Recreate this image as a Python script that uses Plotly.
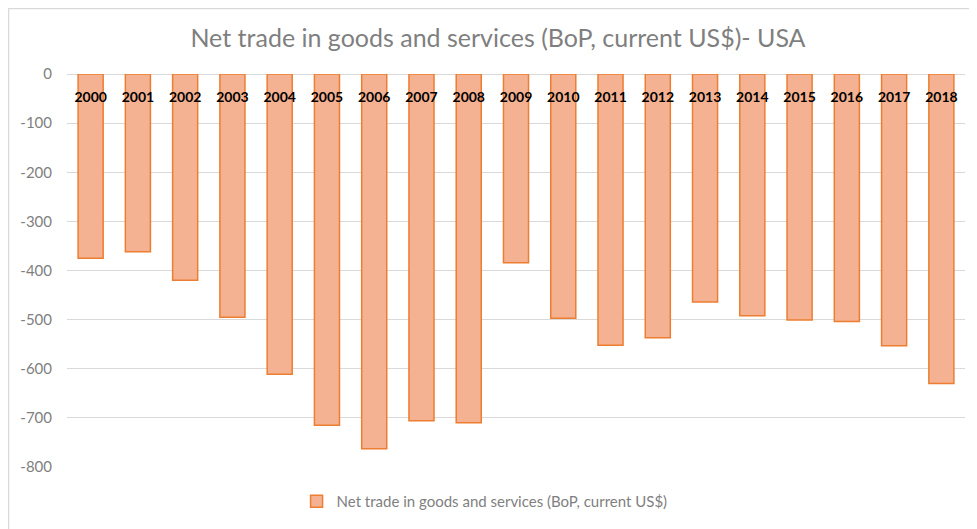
import plotly.graph_objects as go

years = [str(y) for y in range(2000, 2019)]
values = [-375, -362, -420, -495, -611, -715, -763, -706, -710, -384,
          -497, -552, -537, -464, -492, -501, -504, -553, -630]
series_name = "Net trade in goods and services (BoP, current US$)"
title_text = "Net trade in goods and services (BoP, current US$)- USA"
y_ticks = [0, -100, -200, -300, -400, -500, -600, -700, -800]
y_ticktext = ["0", "-100", "-200", "-300", "-400", "-500", "-600", "-700", "-800"]

W, H = 969, 521
L, R, T, B = 59, 12, 66, 62
PW, PH = W - L - R, H - T - B

fig = go.Figure()
fig.add_trace(go.Bar(
    x=years, y=values, name=series_name,
    marker=dict(color="#F5B292", line=dict(color="#ED7D31", width=1.5)),
    showlegend=True,
))

fig.update_layout(
    width=W, height=H,
    margin=dict(l=L, r=R, t=T, b=B, autoexpand=False),
    paper_bgcolor="white", plot_bgcolor="white",
    bargap=0.47,
    title=dict(text=title_text, x=490 / W, xanchor="center",
               y=1 - 30 / H, yanchor="middle",
               font=dict(family="Lato", size=25, color="#7f7f7f")),
    font=dict(family="Lato"),
    xaxis=dict(anchor="free", position=1, side="bottom", showgrid=False,
               showline=False, ticks="", type="category", automargin=False,
               tickfont=dict(family="Lato", size=14, color="#000000", weight="bold"),
               ticklabelstandoff=13),
    yaxis=dict(range=[-800, 0], tickvals=y_ticks, ticktext=y_ticktext,
               showgrid=True, automargin=False,
               gridcolor="#d9d9d9", gridwidth=1, zeroline=True,
               zerolinecolor="#d9d9d9", zerolinewidth=1,
               tickfont=dict(family="Lato", size=15, color="#7f7f7f"),
               ticklabelstandoff=14),
    legend=dict(orientation="h", x=0.465, xanchor="center", y=-0.088, yanchor="middle",
                font=dict(family="Lato", size=15, color="#7f7f7f"),
                itemwidth=30),
    shapes=[
        dict(type="line", xref="paper", yref="paper",
             x0=-(L - 0.5) / PW, x1=-(L - 0.5) / PW,
             y0=-B / PH, y1=1 + T / PH,
             line=dict(color="#d9d9d9", width=1.5), layer="below"),
        dict(type="line", xref="paper", yref="paper",
             x0=-L / PW, x1=1 + R / PW,
             y0=1 + (T - 0.5) / PH, y1=1 + (T - 0.5) / PH,
             line=dict(color="#d9d9d9", width=1.5), layer="below"),
    ],
)

fig.write_html("out.html")
